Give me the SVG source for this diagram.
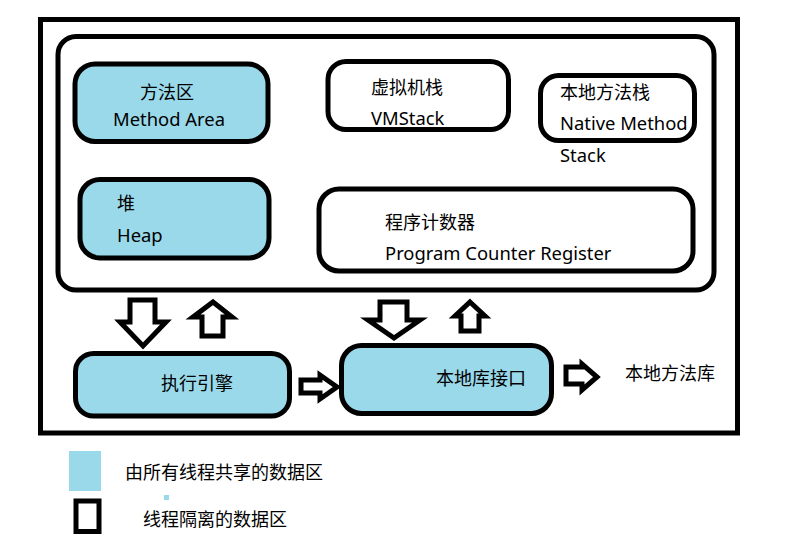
<svg xmlns="http://www.w3.org/2000/svg" width="793" height="541" viewBox="0 0 793 541">
<style>
  .box { stroke: #000; stroke-width: 5; }
  .shared { fill: #99D9EA; }
  .private { fill: #fff; }
  .frame { fill: none; stroke: #000; stroke-width: 5; }
  .arrow { fill: #fff; stroke: #000; stroke-width: 5; stroke-linejoin: miter; }
  text { font-family: "Noto Sans", "Noto Sans CJK SC", sans-serif; font-size: 18px; fill: #000; }
  text.lat { font-size: 18.4px; }
</style>
<rect width="793" height="541" fill="#fff"/>
<g id="outer-frame"><rect class="frame" x="40.5" y="19.5" width="697" height="413.5"/></g>
<g id="runtime-data-area"><rect class="frame" x="58" y="36.5" width="656" height="253.5" rx="18"/></g>

<g id="method-area">
  <rect class="box shared" x="75" y="64" width="193" height="77.5" rx="20"/>
  <text x="140" y="99">方法区</text>
  <text class="lat" x="113" y="126">Method Area</text>
</g>
<g id="heap">
  <rect class="box shared" x="80" y="179.5" width="189" height="78.5" rx="20"/>
  <text x="117" y="210">堆</text>
  <text class="lat" x="117" y="242">Heap</text>
</g>
<g id="vm-stack">
  <rect class="box private" x="328" y="61.5" width="180.5" height="68" rx="18"/>
  <text x="371" y="94">虚拟机栈</text>
  <text class="lat" x="371" y="125">VMStack</text>
</g>
<g id="native-method-stack">
  <rect class="box private" x="540.5" y="75.5" width="154" height="65" rx="18"/>
  <text x="560" y="99">本地方法栈</text>
  <text class="lat" x="560" y="130">Native Method</text>
  <text class="lat" x="560" y="162">Stack</text>
</g>
<g id="program-counter">
  <rect class="box private" x="319" y="189" width="374" height="82" rx="20"/>
  <text x="385" y="229">程序计数器</text>
  <text class="lat" x="385" y="260">Program Counter Register</text>
</g>
<g id="execution-engine">
  <rect class="box shared" x="75.5" y="353.5" width="214" height="62.5" rx="18"/>
  <text x="161" y="390">执行引擎</text>
</g>
<g id="native-interface">
  <rect class="box shared" x="341.5" y="345.5" width="210" height="68" rx="20"/>
  <text x="436" y="385">本地库接口</text>
</g>
<g id="native-library">
  <text x="625" y="380">本地方法库</text>
</g>

<g id="connectors">
  <polygon class="arrow" points="130,300 155,300 155,322 166,322 143,346 120,322 130,322"/>
  <polygon class="arrow" points="213,302 232,317 223,317 223,336 202,336 202,317 193,317"/>
  <polygon class="arrow" points="380,302 407,302 407,320 420,320 394,338 368,320 380,320"/>
  <polygon class="arrow" points="470,302 485,316 479,316 479,331 461,331 461,316 455,316"/>
  <polygon class="arrow" points="301,380 320,380 320,375 337,387 320,399 320,393 301,393"/>
  <polygon class="arrow" points="566,367 582,367 582,364 597,377 582,390 582,384 566,384"/>
</g>

<g id="legend">
  <rect class="shared" x="69" y="451" width="32" height="40"/>
  <text x="125" y="479">由所有线程共享的数据区</text>
  <rect class="shared" x="164" y="495" width="5" height="5"/>
  <rect class="box private" x="76" y="501" width="23" height="30.5"/>
  <text x="143" y="526">线程隔离的数据区</text>
</g>
</svg>
